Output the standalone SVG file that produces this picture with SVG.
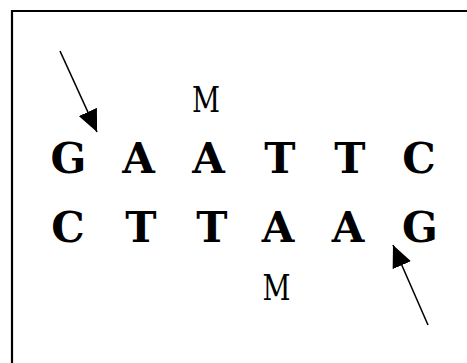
<svg xmlns="http://www.w3.org/2000/svg" width="467" height="363" viewBox="0 0 467 363">
<defs>
<marker id="ah" markerUnits="userSpaceOnUse" markerWidth="22" markerHeight="20" refX="22" refY="10" orient="auto">
<path d="M0,0 L22,10 L0,20 z" fill="#000"/>
</marker>
<style>
.b{font-family:"DejaVu Serif","Liberation Serif",serif;font-weight:bold;font-size:42px;fill:#000;text-anchor:middle}
.m{font-family:"DejaVu Serif","Liberation Serif",serif;font-weight:normal;font-size:36px;fill:#000;text-anchor:middle}
.c{stroke:#000;stroke-width:1.6;fill:none}
</style>
</defs>
<rect x="0" y="0" width="467" height="363" fill="#fff"/>
<path d="M12,380 V11 H480" fill="none" stroke="#000" stroke-width="2.2"/>
<g id="top-strand">
<text class="b" x="68.5" y="173">G</text>
<text class="b" x="138.5" y="173">A</text>
<text class="b" x="208.5" y="173">A</text>
<text class="b" x="280" y="173">T</text>
<text class="b" x="350" y="173">T</text>
<text class="b" x="419" y="173">C</text>
</g>
<g id="bottom-strand">
<text class="b" x="68" y="242">C</text>
<text class="b" x="141" y="242">T</text>
<text class="b" x="212" y="242">T</text>
<text class="b" x="278" y="242">A</text>
<text class="b" x="348" y="242">A</text>
<text class="b" x="420" y="242">G</text>
</g>
<g id="mark-top"><text class="m" x="206" y="112" textLength="28" lengthAdjust="spacingAndGlyphs">M</text></g>
<g id="mark-bottom"><text class="m" x="276.5" y="300" textLength="28" lengthAdjust="spacingAndGlyphs">M</text></g>
<g id="connectors">
<line class="c" x1="60" y1="51" x2="97" y2="132" marker-end="url(#ah)"/>
<line class="c" x1="428" y1="325" x2="393" y2="245" marker-end="url(#ah)"/>
</g>
</svg>
